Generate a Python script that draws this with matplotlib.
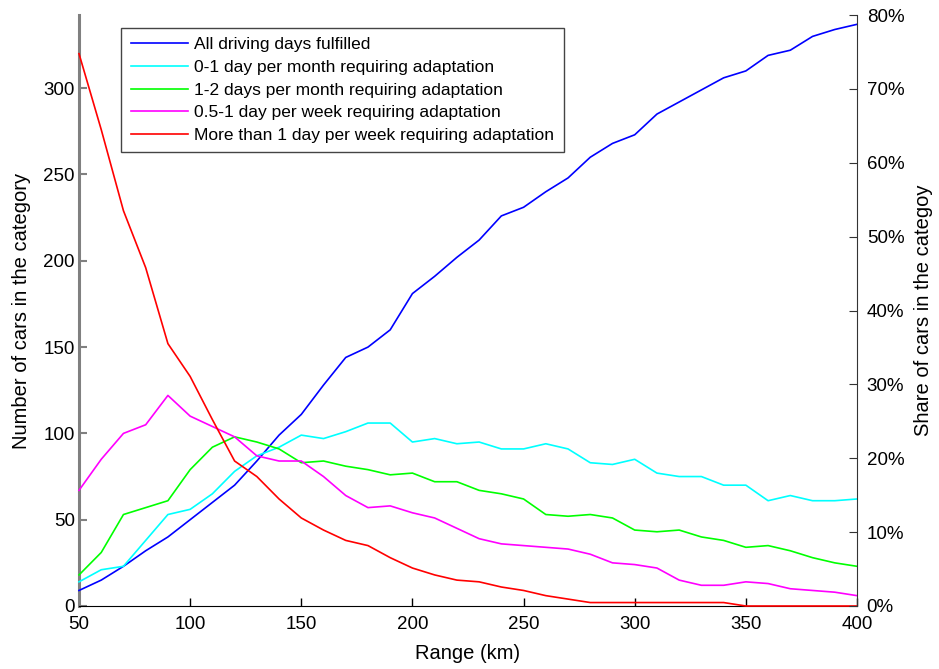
import numpy as np
import matplotlib
matplotlib.use("Agg")
import matplotlib.pyplot as plt
from matplotlib.ticker import FuncFormatter

plt.rcParams["font.family"] = ["Liberation Sans", "DejaVu Sans"]

# Range in km and number of cars per category (total fleet = 428 cars)
range_km = np.arange(50, 401, 10)
all_fulfilled = [9, 15, 23, 32, 40, 50, 60, 70, 84, 99, 111, 128, 144, 150, 160,
                 181, 191, 202, 212, 226, 231, 240, 248, 260, 268, 273, 285, 292,
                 299, 306, 310, 319, 322, 330, 334, 337]
per_month_0_1 = [14, 21, 23, 38, 53, 56, 65, 78, 87, 92, 99, 97, 101, 106, 106,
                 95, 97, 94, 95, 91, 91, 94, 91, 83, 82, 85, 77, 75, 75, 70, 70,
                 61, 64, 61, 61, 62]
per_month_1_2 = [18, 31, 53, 57, 61, 79, 92, 98, 95, 91, 83, 84, 81, 79, 76, 77,
                 72, 72, 67, 65, 62, 53, 52, 53, 51, 44, 43, 44, 40, 38, 34, 35,
                 32, 28, 25, 23]
per_week_05_1 = [67, 85, 100, 105, 122, 110, 104, 98, 87, 84, 84, 75, 64, 57, 58,
                 54, 51, 45, 39, 36, 35, 34, 33, 30, 25, 24, 22, 15, 12, 12, 14,
                 13, 10, 9, 8, 6]
per_week_more = [320, 276, 229, 196, 152, 133, 108, 84, 75, 62, 51, 44, 38, 35,
                 28, 22, 18, 15, 14, 11, 9, 6, 4, 2, 2, 2, 2, 2, 2, 2, 0, 0, 0,
                 0, 0, 0]
total_cars = 428

series = [
    ("All driving days fulfilled", all_fulfilled, "#0000ff"),
    ("0-1 day per month requiring adaptation", per_month_0_1, "#00ffff"),
    ("1-2 days per month requiring adaptation", per_month_1_2, "#00ff00"),
    ("0.5-1 day per week requiring adaptation", per_week_05_1, "#ff00ff"),
    ("More than 1 day per week requiring adaptation", per_week_more, "#ff0000"),
]

fig = plt.figure(figsize=(9.39, 6.69), dpi=100)
ax = fig.add_axes([79 / 939, 1 - 606 / 669, 778 / 939, 591 / 669])

for label, values, color in series:
    ax.plot(range_km, values, color=color, lw=1.2, label=label,
            clip_on=False, zorder=3)

ymax = 0.8 * total_cars
ax.set_xlim(50, 400)
ax.set_ylim(0, ymax)
ax.set_xticks(np.arange(50, 401, 50))
ax.set_yticks(np.arange(0, 301, 50))
ax.tick_params(direction="in", length=6, labelsize=13.5, width=1)
ax.tick_params(axis="x", pad=7)
ax.tick_params(axis="y", colors="#808080", labelcolor="black", width=1.5,
               pad=3)
ax.spines["top"].set_visible(False)
ax.spines["right"].set_visible(False)
ax.spines["left"].set_color("#808080")
ax.spines["left"].set_linewidth(2.2)
ax.set_xlabel("Range (km)", fontsize=14.5, labelpad=8)
ax.set_ylabel("Number of cars in the category", fontsize=14.5, labelpad=9)

ax2 = ax.twinx()
ax2.set_ylim(0, 0.8)
ax2.set_yticks(np.arange(0, 0.81, 0.1))
ax2.yaxis.set_major_formatter(FuncFormatter(lambda v, _: f"{v * 100:.0f}%"))
ax2.tick_params(direction="in", length=6, labelsize=13.5, colors="#333333",
                labelcolor="black", pad=7)
for side in ("top", "bottom", "left"):
    ax2.spines[side].set_visible(False)
ax2.spines["right"].set_color("#333333")
ax2.set_ylabel("Share of cars in the categoy", fontsize=14.5, labelpad=7)

leg = ax.legend(loc="upper left", bbox_to_anchor=(0.054, 0.9785),
                borderaxespad=0, fontsize=12.5, handlelength=3.3,
                handletextpad=0.38, labelspacing=0.43, fancybox=False,
                framealpha=1, edgecolor="#444444", borderpad=0.55)
leg.get_frame().set_linewidth(1.0)
leg.set_zorder(5)

fig.savefig("out.png", dpi=100)
